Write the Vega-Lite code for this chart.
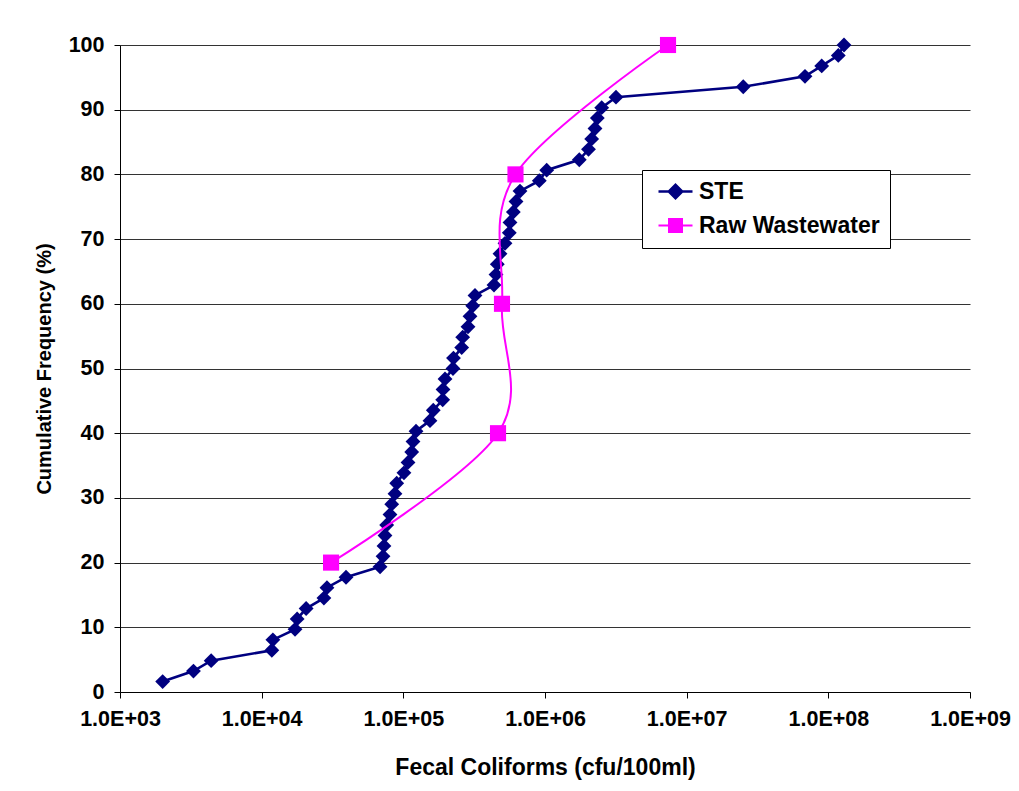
{
  "$schema": "https://vega.github.io/schema/vega-lite/v6.json",
  "width": 850,
  "height": 647,
  "autosize": {"type": "none"},
  "padding": {"left": 120, "top": 45, "right": 49, "bottom": 99},
  "background": "white",
  "config": {
    "font": "Liberation Sans",
    "view": {"stroke": null},
    "axis": {
      "domainColor": "#000000",
      "domainWidth": 1,
      "tickColor": "#000000",
      "tickSize": 6,
      "labelColor": "#000000",
      "labelFont": "Liberation Sans",
      "labelFontSize": 21.5,
      "labelFontWeight": "bold",
      "labelFlush": false,
      "labelOverlap": false,
      "labelBound": false,
      "titleColor": "#000000",
      "titleFont": "Liberation Sans",
      "titleFontWeight": "bold"
    }
  },
  "data": {
    "values": [
      {"series": "STE", "cfu": 2000, "freq": 1.61},
      {"series": "STE", "cfu": 3300, "freq": 3.23},
      {"series": "STE", "cfu": 4400, "freq": 4.84},
      {"series": "STE", "cfu": 11800, "freq": 6.45},
      {"series": "STE", "cfu": 12000, "freq": 8.06},
      {"series": "STE", "cfu": 17200, "freq": 9.68},
      {"series": "STE", "cfu": 17800, "freq": 11.29},
      {"series": "STE", "cfu": 20600, "freq": 12.9},
      {"series": "STE", "cfu": 27500, "freq": 14.52},
      {"series": "STE", "cfu": 28900, "freq": 16.13},
      {"series": "STE", "cfu": 39400, "freq": 17.74},
      {"series": "STE", "cfu": 68500, "freq": 19.35},
      {"series": "STE", "cfu": 71900, "freq": 20.97},
      {"series": "STE", "cfu": 73000, "freq": 22.58},
      {"series": "STE", "cfu": 74200, "freq": 24.19},
      {"series": "STE", "cfu": 76300, "freq": 25.81},
      {"series": "STE", "cfu": 80500, "freq": 27.42},
      {"series": "STE", "cfu": 82800, "freq": 29.03},
      {"series": "STE", "cfu": 87300, "freq": 30.65},
      {"series": "STE", "cfu": 89800, "freq": 32.26},
      {"series": "STE", "cfu": 101000, "freq": 33.87},
      {"series": "STE", "cfu": 107900, "freq": 35.48},
      {"series": "STE", "cfu": 114600, "freq": 37.1},
      {"series": "STE", "cfu": 117000, "freq": 38.71},
      {"series": "STE", "cfu": 122900, "freq": 40.32},
      {"series": "STE", "cfu": 154200, "freq": 41.94},
      {"series": "STE", "cfu": 162700, "freq": 43.55},
      {"series": "STE", "cfu": 189600, "freq": 45.16},
      {"series": "STE", "cfu": 190600, "freq": 46.77},
      {"series": "STE", "cfu": 196900, "freq": 48.39},
      {"series": "STE", "cfu": 224100, "freq": 50.0},
      {"series": "STE", "cfu": 226000, "freq": 51.61},
      {"series": "STE", "cfu": 258200, "freq": 53.23},
      {"series": "STE", "cfu": 262400, "freq": 54.84},
      {"series": "STE", "cfu": 286100, "freq": 56.45},
      {"series": "STE", "cfu": 295500, "freq": 58.06},
      {"series": "STE", "cfu": 308800, "freq": 59.68},
      {"series": "STE", "cfu": 320500, "freq": 61.29},
      {"series": "STE", "cfu": 436400, "freq": 62.9},
      {"series": "STE", "cfu": 451000, "freq": 64.52},
      {"series": "STE", "cfu": 460600, "freq": 66.13},
      {"series": "STE", "cfu": 481300, "freq": 67.74},
      {"series": "STE", "cfu": 521900, "freq": 69.35},
      {"series": "STE", "cfu": 559800, "freq": 70.97},
      {"series": "STE", "cfu": 566200, "freq": 72.58},
      {"series": "STE", "cfu": 597400, "freq": 74.19},
      {"series": "STE", "cfu": 624200, "freq": 75.81},
      {"series": "STE", "cfu": 666000, "freq": 77.42},
      {"series": "STE", "cfu": 911600, "freq": 79.03},
      {"series": "STE", "cfu": 1028000, "freq": 80.65},
      {"series": "STE", "cfu": 1746000, "freq": 82.26},
      {"series": "STE", "cfu": 2028000, "freq": 83.87},
      {"series": "STE", "cfu": 2136000, "freq": 85.48},
      {"series": "STE", "cfu": 2254000, "freq": 87.1},
      {"series": "STE", "cfu": 2340000, "freq": 88.71},
      {"series": "STE", "cfu": 2513000, "freq": 90.32},
      {"series": "STE", "cfu": 3170000, "freq": 91.94},
      {"series": "STE", "cfu": 25090000, "freq": 93.55},
      {"series": "STE", "cfu": 68430000, "freq": 95.16},
      {"series": "STE", "cfu": 89780000, "freq": 96.77},
      {"series": "STE", "cfu": 117600000, "freq": 98.39},
      {"series": "STE", "cfu": 129000000, "freq": 100.0},
      {"series": "Raw Wastewater", "cfu": 30900, "freq": 20},
      {"series": "Raw Wastewater", "cfu": 466000, "freq": 40},
      {"series": "Raw Wastewater", "cfu": 497000, "freq": 60},
      {"series": "Raw Wastewater", "cfu": 619000, "freq": 80},
      {"series": "Raw Wastewater", "cfu": 7385000, "freq": 100}
    ]
  },
  "encoding": {
    "x": {
      "field": "cfu",
      "type": "quantitative",
      "scale": {"type": "log", "domain": [1000, 1000000000], "nice": false},
      "axis": {
        "title": "Fecal Coliforms (cfu/100ml)",
        "titleFontSize": 23,
        "titlePadding": 27,
        "values": [1000, 10000, 100000, 1000000, 10000000, 100000000, 1000000000],
        "labelExpr": "'1.0E+0' + round(log(datum.value) / LN10)",
        "labelPadding": 10,
        "grid": false
      }
    },
    "y": {
      "field": "freq",
      "type": "quantitative",
      "scale": {"domain": [0, 100], "nice": false, "zero": true},
      "axis": {
        "title": "Cumulative Frequency (%)",
        "titleFontSize": 20,
        "titlePadding": 14,
        "values": [0, 10, 20, 30, 40, 50, 60, 70, 80, 90, 100],
        "labelPadding": 10,
        "grid": true,
        "gridColor": "#333333",
        "gridWidth": 1
      }
    },
    "order": {"field": "freq", "type": "quantitative"}
  },
  "layer": [
    {
      "transform": [{"filter": "datum.series === 'STE'"}],
      "mark": {"type": "line", "color": "#000080", "strokeWidth": 2.6, "interpolate": "linear"}
    },
    {
      "transform": [{"filter": "datum.series === 'STE'"}],
      "mark": {"type": "point", "shape": "diamond", "filled": true, "color": "#000080", "opacity": 1, "size": 220}
    },
    {
      "transform": [{"filter": "datum.series === 'Raw Wastewater'"}],
      "mark": {"type": "line", "color": "#FF00FF", "strokeWidth": 2, "interpolate": "cardinal"}
    },
    {
      "transform": [{"filter": "datum.series === 'Raw Wastewater'"}],
      "mark": {"type": "point", "shape": "square", "filled": true, "color": "#FF00FF", "opacity": 1, "size": 260}
    },
    {
      "transform": [{"filter": "false"}],
      "mark": {"type": "point", "filled": true, "opacity": 1, "size": 400},
      "encoding": {
        "fill": {
          "field": "series",
          "type": "nominal",
          "scale": {"domain": ["STE", "Raw Wastewater"], "range": ["#000080", "#FF00FF"]},
          "legend": null
        },
        "shape": {
          "field": "series",
          "type": "nominal",
          "scale": {
            "domain": ["STE", "Raw Wastewater"],
            "range": [
              "M-1.7,-0.12L1.7,-0.12L1.7,0.12L-1.7,0.12Z M0,-0.85L0.85,0L0,0.85L-0.85,0Z",
              "M-1.7,-0.1L1.7,-0.1L1.7,0.1L-1.7,0.1Z M-0.75,-0.75L0.75,-0.75L0.75,0.75L-0.75,0.75Z"
            ]
          },
          "legend": {
            "title": null,
            "orient": "none",
            "legendX": 522,
            "legendY": 125,
            "direction": "vertical",
            "padding": 10,
            "strokeColor": "#000000",
            "fillColor": "#ffffff",
            "symbolSize": 400,
            "symbolOffset": 12,
            "symbolStrokeWidth": 0,
            "symbolFillColor": "#000080",
            "labelOffset": 12,
            "labelFont": "Liberation Sans",
            "labelFontSize": 23,
            "labelFontWeight": "bold",
            "labelColor": "#000000",
            "labelLimit": 400,
            "rowPadding": 10
          }
        }
      }
    }
  ]
}
